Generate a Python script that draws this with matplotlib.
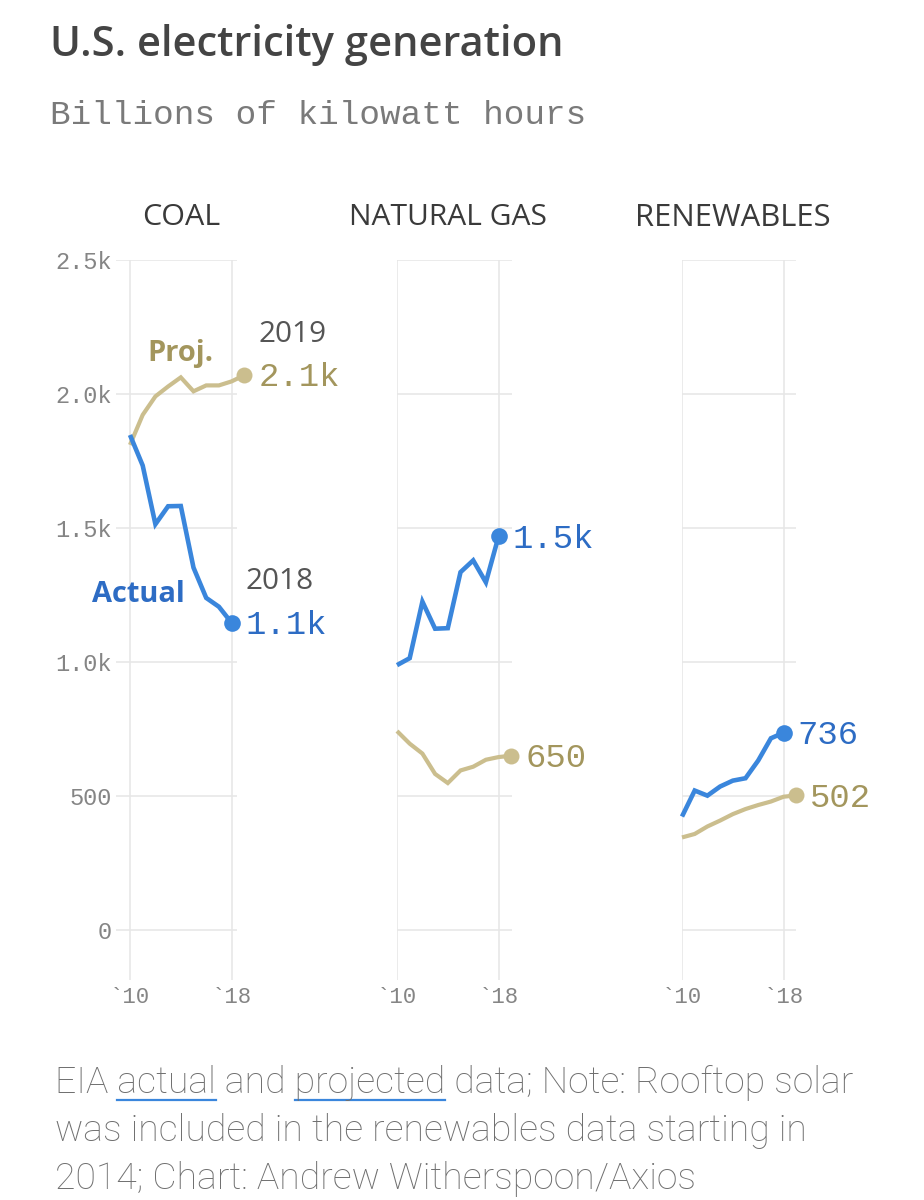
import matplotlib
matplotlib.use('Agg')
import matplotlib.pyplot as plt
from matplotlib.lines import Line2D

# ---------------- data ----------------
years_actual = [2010, 2011, 2012, 2013, 2014, 2015, 2016, 2017, 2018]
years_proj = [2010, 2011, 2012, 2013, 2014, 2015, 2016, 2017, 2018, 2019]

panel_titles = ["COAL", "NATURAL GAS", "RENEWABLES"]

coal_actual = [1847, 1733, 1514, 1581, 1582, 1352, 1239, 1206, 1146]
coal_proj = [1810, 1922, 1991, 2028, 2062, 2010, 2032, 2032, 2047, 2070]
gas_actual = [988, 1014, 1225, 1124, 1126, 1335, 1379, 1297, 1469]
gas_proj = [742, 695, 658, 582, 548, 595, 609, 635, 645, 650]
ren_actual = [423, 520, 501, 535, 557, 566, 632, 715, 736]
ren_proj = [345, 358, 386, 408, 432, 451, 466, 479, 497, 502]

actual_labels = ["1.1k", "1.5k", "736"]
proj_labels = ["2.1k", "650", "502"]

y_ticks = [0, 500, 1000, 1500, 2000, 2500]
y_tick_labels = ["0", "500", "1.0k", "1.5k", "2.0k", "2.5k"]
x_ticks = [2010, 2018]
x_tick_labels = ["`10", "`18"]

# ---------------- style ----------------
BLUE = "#3a86dc"
BLUE_TXT = "#2d6cc4"
TAN = "#cbbe8e"
TAN_TXT = "#a3965d"
GRID = "#e6e6e6"
GRAY_TXT = "#858585"
SANS = ["Open Sans", "DejaVu Sans"]
FOOT = ["Roboto", "DejaVu Sans"]
MONO = ["Liberation Mono", "DejaVu Sans Mono"]

W, H = 924, 1200
fig = plt.figure(figsize=(W / 100, H / 100), dpi=100)
fig.patch.set_facecolor("white")
renderer = fig.canvas.get_renderer()


def text_width(s, **kw):
    t = fig.text(0, 0, s, **kw)
    w = t.get_window_extent(renderer).width
    t.remove()
    return w


def fit_size(s, target_px, **kw):
    return 20 * target_px / text_width(s, fontsize=20, **kw)


def ax_px(left, top, width, height):
    return fig.add_axes([left / W, 1 - (top + height) / H, width / W, height / H])


PPY = 12.7  # pixels per year
TOP, BOT = 260, 980
YLIM = (-187, 2500)

panel_specs = [
    (130 - 1.1 * PPY, (2008.9, 2018.4)),
    (397 - 0.02 * PPY, (2009.98, 2019.05)),
    (682 - 0.02 * PPY, (2009.98, 2019.0)),
]
series_actual = [coal_actual, gas_actual, ren_actual]
series_proj = [coal_proj, gas_proj, ren_proj]
title_widths = [78, 198, 195]

axes = []
for i, (left, xlim) in enumerate(panel_specs):
    width = (xlim[1] - xlim[0]) * PPY
    ax = ax_px(left, TOP, width, BOT - TOP)
    axes.append(ax)
    ax.set_xlim(*xlim)
    ax.set_ylim(*YLIM)
    for s in ax.spines.values():
        s.set_visible(False)
    ax.set_yticks(y_ticks)
    ax.set_xticks(x_ticks)
    ax.grid(True, color=GRID, linewidth=1.1, zorder=0)
    ax.set_axisbelow(True)
    ax.tick_params(length=0)
    ax.set_xticklabels(x_tick_labels, fontfamily=MONO, fontsize=16, color=GRAY_TXT)
    ax.tick_params(axis="x", pad=5)
    if i == 0:
        ax.set_yticklabels(y_tick_labels, fontfamily=MONO, fontsize=17, color=GRAY_TXT)
        ax.tick_params(axis="y", pad=3)
    else:
        ax.set_yticklabels([])
    ax.patch.set_alpha(0)

    ax.plot(years_proj, series_proj[i], color=TAN, lw=3.0, solid_joinstyle="miter",
            solid_capstyle="butt", zorder=3, clip_on=False)
    ax.plot(years_actual, series_actual[i], color=BLUE, lw=3.3, solid_joinstyle="miter",
            solid_capstyle="butt", zorder=4, clip_on=False)
    ax.plot(years_proj[-1], series_proj[i][-1], "o", color=TAN, ms=11.5, mec="none",
            zorder=5, clip_on=False)
    ax.plot(years_actual[-1], series_actual[i][-1], "o", color=BLUE, ms=12, mec="none",
            zorder=6, clip_on=False)
    ax.annotate(proj_labels[i], (years_proj[-1], series_proj[i][-1]),
                xytext=(10, -2), textcoords="offset points", va="center", ha="left",
                fontfamily=MONO, fontsize=24.5, color=TAN_TXT, annotation_clip=False)
    ax.annotate(actual_labels[i], (years_actual[-1], series_actual[i][-1]),
                xytext=(10, -2), textcoords="offset points", va="center", ha="left",
                fontfamily=MONO, fontsize=24.5, color=BLUE_TXT, annotation_clip=False)

    x_center = (2010 + 2018) / 2
    fs = fit_size(panel_titles[i], title_widths[i], fontfamily=SANS)
    ax.text(x_center, YLIM[1] + (TOP - 218) / (BOT - TOP) * (YLIM[1] - YLIM[0]),
            panel_titles[i], ha="center", va="center", fontfamily=SANS,
            fontsize=fs, color="#3a3a3a")

coal = axes[0]
fs_year = fit_size("2019", 68, fontfamily=SANS)
coal.annotate("2019", (years_proj[-1], coal_proj[-1]), xytext=(10, 29),
              textcoords="offset points", va="center", ha="left", fontfamily=SANS,
              fontsize=fs_year, color="#555555", annotation_clip=False)
coal.annotate("2018", (years_actual[-1], coal_actual[-1]), xytext=(10, 30),
              textcoords="offset points", va="center", ha="left", fontfamily=SANS,
              fontsize=fs_year, color="#555555", annotation_clip=False)
fs_proj = fit_size("Proj.", 66, fontfamily=SANS, fontweight="bold")
fs_act = fit_size("Actual", 97, fontfamily=SANS, fontweight="bold")
fs_lab = min(fs_proj, fs_act)
coal.text(2011.4, 2150, "Proj.", fontfamily=SANS, fontweight="bold", fontsize=fs_lab,
          color=TAN_TXT, ha="left", va="center")
coal.text(2014.35, 1250, "Actual", fontfamily=SANS, fontweight="bold", fontsize=fs_lab,
          color=BLUE_TXT, ha="right", va="center")

# title and subtitle
title = "U.S. electricity generation"
fs_title = fit_size(title, 513, fontfamily=SANS, fontweight="semibold")
fig.text(50 / W, 1 - 45 / H, title, fontfamily=SANS,
         fontweight="semibold", fontsize=fs_title, color="#444444", ha="left", va="center")
subtitle = "Billions of kilowatt hours"
fs_sub = fit_size(subtitle, 535, fontfamily=MONO)
fig.text(50 / W, 1 - 116 / H, subtitle, fontfamily=MONO,
         fontsize=fs_sub, color="#7a7a7a", ha="left", va="center")

# footer
foot_lines = [
    "EIA actual and projected data; Note: Rooftop solar",
    "was included in the renewables data starting in",
    "2014; Chart: Andrew Witherspoon/Axios",
]
fs_foot = fit_size(foot_lines[0], 798, fontfamily=FOOT, fontweight="light")
FOOT_FONT = dict(fontfamily=FOOT, fontweight="light", fontsize=fs_foot, color="#6f6f6f")
baselines = [1093, 1141, 1189]
for line, b in zip(foot_lines, baselines):
    fig.text(55 / W, 1 - b / H, line, ha="left", va="baseline", **FOOT_FONT)

line0 = foot_lines[0]
for word in ["actual", "projected"]:
    idx = line0.index(word)
    end_w = text_width(line0[: idx + len(word)], **FOOT_FONT)
    word_w = text_width(word, **FOOT_FONT)
    x0 = 55 + end_w - word_w
    x1 = 55 + end_w
    y = baselines[0] + 7
    fig.add_artist(Line2D([x0 / W, x1 / W], [1 - y / H, 1 - y / H],
                          transform=fig.transFigure, color=BLUE, lw=1.6))

fig.savefig("out.png", dpi=100, facecolor="white")
